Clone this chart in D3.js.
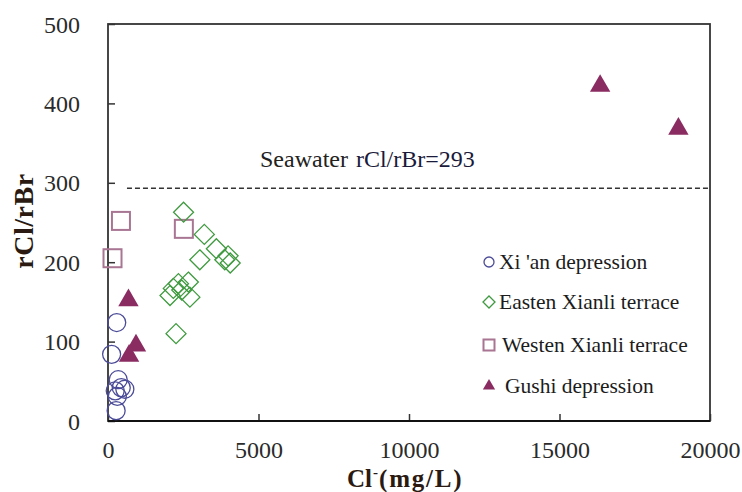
<!DOCTYPE html>
<html>
<head>
<meta charset="utf-8">
<script src="https://cdn.jsdelivr.net/npm/d3@7"></script>
<style>
  html, body { margin: 0; padding: 0; background: #fff; }
  svg { display: block; }
  text { font-family: "Liberation Serif", "Times New Roman", serif; }
</style>
</head>
<body>
<svg id="chart" width="742" height="492"></svg>
<script>
// Cl- concentration (mg/L) and rCl/rBr ratio for each sampling group
const xianDepression = [
  [290, 124], [120, 84], [340, 52], [440, 42], [240, 38], [560, 40], [310, 31], [270, 13]
];
const eastenXianli = [
  [2510, 263], [3200, 235], [3600, 217], [3050, 203], [3990, 208], [4060, 199], [3880, 203],
  [2170, 167], [2340, 173], [2670, 175], [2060, 158], [2450, 165], [2720, 156], [2260, 110]
];
const westenXianli = [
  [430, 252], [150, 205], [2520, 242]
];
const gushiDepression = [
  [680, 152], [930, 95], [700, 82], [16350, 422], [18950, 368]
];

const seawaterRatio = 293;
const seawaterFrom = 630;

const xTicks = [0, 5000, 10000, 15000, 20000];
const yTicks = [0, 100, 200, 300, 400, 500];

const legendLabels = ["Xi 'an depression", "Easten Xianli terrace", "Westen Xianli terrace", "Gushi depression"];

const svg = d3.select("#chart");
svg.append("rect").attr("width", 742).attr("height", 492).attr("fill", "#fff");

const plot = { left: 108, right: 710, top: 24, bottom: 421 };
const x = d3.scaleLinear().domain([0, 20000]).range([plot.left, plot.right]);
const y = d3.scaleLinear().domain([0, 500]).range([plot.bottom, plot.top]);

const axisColor = "#333";

// Axes with inward ticks
const xAxis = svg.append("g")
  .attr("transform", `translate(0,${plot.bottom})`)
  .call(d3.axisBottom(x).tickValues(xTicks).tickSizeInner(-7).tickSizeOuter(0).tickPadding(20).tickFormat(d3.format("d")));
const yAxis = svg.append("g")
  .attr("transform", `translate(${plot.left},0)`)
  .call(d3.axisLeft(y).tickValues(yTicks).tickSizeInner(-7).tickSizeOuter(0).tickPadding(28).tickFormat(d3.format("d")));

[xAxis, yAxis].forEach(g => {
  g.select(".domain").remove();
  g.selectAll(".tick line").attr("stroke", axisColor).attr("stroke-width", 1.5);
  g.selectAll(".tick text")
    .attr("fill", "#2b2b2b")
    .style("font-family", "'Liberation Serif', serif")
    .style("font-size", "24px");
});
yAxis.selectAll(".tick text").attr("dy", "0.34em");

// Plot frame
svg.append("rect")
  .attr("x", plot.left).attr("y", plot.top)
  .attr("width", plot.right - plot.left).attr("height", plot.bottom - plot.top)
  .attr("fill", "none").attr("stroke", axisColor).attr("stroke-width", 1.8);
svg.append("line")
  .attr("x1", plot.left).attr("x2", plot.right)
  .attr("y1", plot.bottom).attr("y2", plot.bottom)
  .attr("stroke", "#111").attr("stroke-width", 2.2);

// Seawater reference line
svg.append("line")
  .attr("x1", x(seawaterFrom)).attr("x2", x(20000))
  .attr("y1", y(seawaterRatio)).attr("y2", y(seawaterRatio))
  .attr("stroke", "#333").attr("stroke-width", 1.5)
  .attr("stroke-dasharray", "5,3");

const seaLabel = svg.append("text")
  .attr("x", 260).attr("y", 167)
  .style("font-size", "24px");
seaLabel.append("tspan").attr("fill", "#222").text("Seawater");
seaLabel.append("tspan").attr("dx", 8).attr("fill", "#1a1a3a").text(`rCl/rBr=${seawaterRatio}`);

// Marker drawing helpers
const colors = {
  xian: "#4b4b98",
  east: "#3f9a3f",
  west: "#a87592",
  gushi: "#8a2c62"
};
const diamondPath = (h) => `M0,${-h}L${h},0L0,${h}L${-h},0Z`;
const trianglePath = d3.symbol().type(d3.symbolTriangle);

function drawCircle(g, r) {
  g.append("circle").attr("r", r).attr("fill", "none")
    .attr("stroke", colors.xian).attr("stroke-width", 1.3);
}
function drawDiamond(g, h) {
  g.append("path").attr("d", diamondPath(h)).attr("fill", "none")
    .attr("stroke", colors.east).attr("stroke-width", 1.3);
}
function drawSquare(g, s) {
  g.append("rect").attr("x", -s / 2).attr("y", -s / 2).attr("width", s).attr("height", s)
    .attr("fill", "none").attr("stroke", colors.west).attr("stroke-width", 2);
}
function drawTriangle(g, area) {
  g.append("path").attr("d", trianglePath.size(area)()).attr("fill", colors.gushi);
}

const marks = svg.append("g");
function plotSeries(data, draw, size) {
  data.forEach(([cx, cy]) => {
    const g = marks.append("g").attr("transform", `translate(${x(cx)},${y(cy)})`);
    draw(g, size);
  });
}
plotSeries(westenXianli, drawSquare, 18);
plotSeries(eastenXianli, drawDiamond, 10);
plotSeries(xianDepression, drawCircle, 9);
plotSeries(gushiDepression, drawTriangle, 180);

// Legend
const legendRows = [262, 302, 345, 386];
const legendDraw = [
  g => drawCircle(g, 5),
  g => drawDiamond(g, 6),
  g => drawSquare(g, 11),
  g => drawTriangle(g, 65)
];
const legend = svg.append("g");
legendLabels.forEach((label, i) => {
  const g = legend.append("g").attr("transform", `translate(489,${legendRows[i]})`);
  legendDraw[i](g);
  g.append("text")
    .attr("x", i === 3 ? 16 : (i === 2 ? 13 : 10))
    .attr("dy", "0.33em")
    .attr("fill", "#1c1c1c")
    .style("font-size", "21.5px")
    .text(label);
});

// Axis titles
const xTitle = svg.append("text")
  .attr("x", 347).attr("y", 487)
  .attr("fill", "#2a1a12")
  .style("font-size", "25px").style("font-weight", "bold");
xTitle.append("tspan").text("Cl");
xTitle.append("tspan").attr("dx", 1).attr("dy", -10).style("font-size", "15px").text("-");
xTitle.append("tspan").attr("dx", 1).attr("dy", 10).style("letter-spacing", "1.8px").text("(mg/L)");

svg.append("text")
  .attr("transform", "translate(33,221) rotate(-90)")
  .attr("text-anchor", "middle")
  .attr("fill", "#2a1a12")
  .style("font-size", "28px").style("font-weight", "bold")
  .style("letter-spacing", "0.5px")
  .text("rCl/rBr");
</script>
</body>
</html>
